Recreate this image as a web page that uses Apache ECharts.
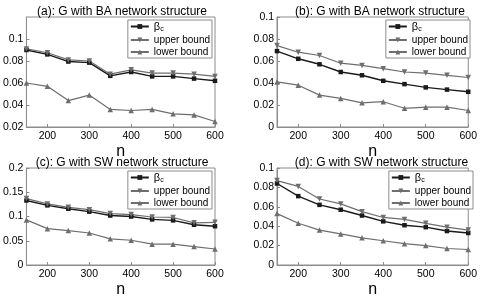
<!DOCTYPE html>
<html>
<head>
<meta charset="utf-8">
<script src="https://cdn.jsdelivr.net/npm/echarts@6/dist/echarts.min.js"></script>
<style>
  html, body { margin: 0; padding: 0; background: #fff; }
  #chart { width: 480px; height: 299px; }
</style>
</head>
<body>
<div id="chart"></div>
<script>
const nValues = [150, 200, 250, 300, 350, 400, 450, 500, 550, 600]
const xTicks = [200, 300, 400, 500, 600]

// (a) BA
const betaA = [0.090, 0.086, 0.0795, 0.0785, 0.0665, 0.070, 0.066, 0.066, 0.064, 0.062]
const upperA = [0.091, 0.0875, 0.081, 0.080, 0.068, 0.072, 0.069, 0.069, 0.068, 0.066]
const lowerA = [0.060, 0.057, 0.044, 0.049, 0.036, 0.035, 0.036, 0.032, 0.031, 0.025]
// (b) BA
const betaB = [0.069, 0.062, 0.057, 0.050, 0.047, 0.042, 0.039, 0.036, 0.034, 0.032]
const upperB = [0.074, 0.068, 0.065, 0.058, 0.056, 0.053, 0.050, 0.049, 0.047, 0.045]
const lowerB = [0.041, 0.038, 0.029, 0.026, 0.022, 0.023, 0.017, 0.018, 0.018, 0.015]
// (c) SW
const betaC = [0.133, 0.123, 0.116, 0.110, 0.102, 0.100, 0.094, 0.092, 0.083, 0.080]
const upperC = [0.137, 0.126, 0.119, 0.114, 0.106, 0.104, 0.099, 0.098, 0.087, 0.088]
const lowerC = [0.093, 0.075, 0.071, 0.066, 0.054, 0.051, 0.043, 0.043, 0.038, 0.033]
// (d) SW
const betaD = [0.084, 0.071, 0.062, 0.057, 0.051, 0.045, 0.041, 0.039, 0.035, 0.033]
const upperD = [0.087, 0.081, 0.068, 0.063, 0.055, 0.049, 0.047, 0.043, 0.039, 0.036]
const lowerD = [0.053, 0.043, 0.036, 0.032, 0.028, 0.025, 0.022, 0.020, 0.017, 0.016]

const titles = [
  '(a): G with BA network structure',
  '(b): G with BA network structure',
  '(c): G with SW network structure',
  '(d): G with SW network structure'
]
const yRanges = [[0.02, 0.12, 0.02], [0, 0.1, 0.02], [0, 0.2, 0.05], [0, 0.1, 0.02]]
const panels = [[betaA, upperA, lowerA], [betaB, upperB, lowerB], [betaC, upperC, lowerC], [betaD, upperD, lowerD]]

// 各子图的位置
const boxes = [
  { left: 19, top: 17, width: 196, height: 110 },
  { left: 277, top: 17, width: 196, height: 110 },
  { left: 19, top: 168, width: 196, height: 108 },
  { left: 277, top: 168, width: 199, height: 108 }
]

const font = 'Liberation Sans, Arial, sans-serif'
const frameColor = '#8c8c8c'
const seriesStyle = [
  { name: 'beta', color: '#1a1a1a', symbol: 'rect', rotate: 0, size: 4.5, width: 1.4 },
  { name: 'upper bound', color: '#6e6e6e', symbol: 'triangle', rotate: 180, size: 5.5, width: 1.2 },
  { name: 'lower bound', color: '#6e6e6e', symbol: 'triangle', rotate: 0, size: 5.5, width: 1.2 }
]

const grid = boxes.map((b) => ({
  ...b,
  show: true,
  borderColor: frameColor,
  borderWidth: 1,
  backgroundColor: 'transparent'
}))

const xAxis = boxes.map((b, i) => ({
  type: 'value',
  gridIndex: i,
  min: 150,
  max: 600,
  name: 'n',
  nameLocation: 'middle',
  nameGap: 17,
  nameTextStyle: { fontFamily: font, fontSize: 16, color: '#000' },
  axisLine: { lineStyle: { color: frameColor } },
  axisTick: { inside: true, length: 3, customValues: xTicks, lineStyle: { color: frameColor } },
  axisLabel: { customValues: xTicks, fontFamily: font, fontSize: 10.5, color: '#000', margin: 4 },
  splitLine: { show: false }
}))

const yAxis = yRanges.map((r, i) => ({
  type: 'value',
  gridIndex: i,
  min: r[0],
  max: r[1],
  interval: r[2],
  axisLine: { lineStyle: { color: frameColor } },
  axisTick: { inside: true, length: 3, lineStyle: { color: frameColor } },
  axisLabel: {
    fontFamily: font,
    fontSize: 10.5,
    color: '#000',
    margin: 3,
    showMaxLabel: i !== 0,
    formatter: (v) => String(+v.toFixed(4))
  },
  splitLine: { show: false }
}))

const series = []
panels.forEach((p, i) => {
  p.forEach((vals, k) => {
    const s = seriesStyle[k]
    series.push({
      name: s.name,
      type: 'line',
      xAxisIndex: i,
      yAxisIndex: i,
      data: nValues.map((n, j) => [n, vals[j]]),
      symbol: s.symbol,
      symbolSize: s.size,
      symbolRotate: s.rotate,
      showAllSymbol: true,
      lineStyle: { color: s.color, width: s.width },
      itemStyle: { color: s.color },
      emphasis: { disabled: true },
      animation: false
    })
  })
})

const title = boxes.map((b, i) => ({
  text: titles[i],
  left: b.left + b.width / 2,
  top: b.top - 16,
  textAlign: 'center',
  textStyle: { fontFamily: font, fontSize: 12, fontWeight: 'normal', color: '#000' }
}))

const legend = boxes.map((b) => ({
  data: ['beta', 'upper bound', 'lower bound'],
  orient: 'vertical',
  right: 480 - b.left - b.width + 3,
  top: b.top + 3,
  itemWidth: 18,
  itemHeight: 6,
  itemGap: 2,
  padding: [1, 2, 1, 2],
  borderColor: frameColor,
  borderWidth: 1,
  backgroundColor: '#fff',
  selectedMode: false,
  formatter: (name) => (name === 'beta' ? '{b|β}{s|c}' : name),
  textStyle: {
    fontFamily: font,
    fontSize: 10,
    color: '#000',
    rich: {
      b: { fontFamily: font, fontSize: 11, color: '#000' },
      s: { fontFamily: font, fontSize: 7, color: '#000', verticalAlign: 'bottom', padding: [6, 0, 0, 0] }
    }
  }
}))

const chart = echarts.init(document.getElementById('chart'), null, { renderer: 'canvas' })
chart.setOption({
  animation: false,
  backgroundColor: '#fff',
  title,
  legend,
  grid,
  xAxis,
  yAxis,
  series
})
</script>
</body>
</html>
